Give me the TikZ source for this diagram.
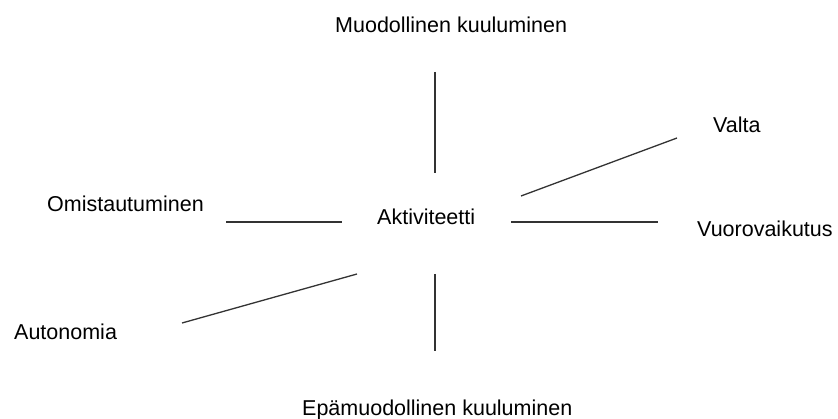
\documentclass[tikz,border=0pt]{standalone}
\usepackage{fontspec}
\setmainfont{Liberation Sans}
\begin{document}
\begin{tikzpicture}[x=1pt, y=-1pt,
        word/.style = {inner sep=0pt, anchor=base west, font=\fontsize{21.5}{26}\selectfont},
        spoke/.style = {line width=1.3pt, black!80}]
                \useasboundingbox (0,0) rectangle (838,419);
                \node[word] (muod) at (335,33) {Muodollinen kuuluminen};
                \node[word] (valta) at (713,133) {Valta};
                \node[word] (omis) at (47,212) {Omistautuminen};
                \node[word] (akt) at (377,225) {Aktiviteetti};
                \node[word] (vuoro) at (697,237) {Vuorovaikutus};
                \node[word] (auto) at (14,340) {Autonomia};
                \node[word] (epa) at (302,416) {Epämuodollinen kuuluminen};

                \coordinate (m1) at (435,72);   \coordinate (m2) at (435,173);
                \coordinate (v1) at (521,196);  \coordinate (v2) at (677,138);
                \coordinate (o1) at (226,222);  \coordinate (o2) at (342,222);
                \coordinate (r1) at (511,222);  \coordinate (r2) at (658,222);
                \coordinate (a1) at (357,274);  \coordinate (a2) at (182,323);
                \coordinate (e1) at (435,274);  \coordinate (e2) at (435,351);

                \draw[spoke] (m1) -- (m2);
                \draw[spoke] (v1) -- (v2);
                \draw[spoke] (o1) -- (o2);
                \draw[spoke] (r1) -- (r2);
                \draw[spoke] (a1) -- (a2);
                \draw[spoke] (e1) -- (e2);
            \end{tikzpicture}
\end{document}
